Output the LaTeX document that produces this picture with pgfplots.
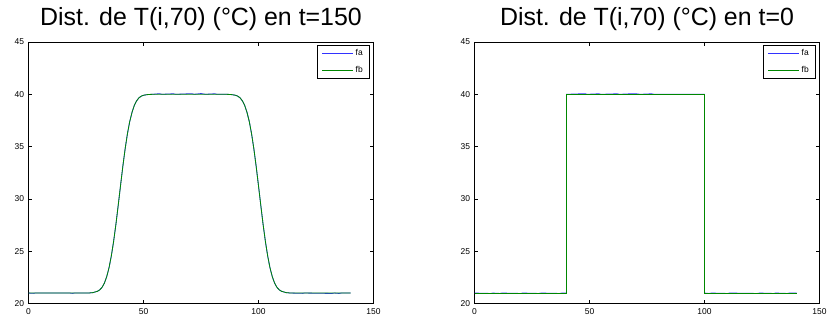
\documentclass[border=0pt]{standalone}
\usepackage{pgfplots}
\pgfplotsset{compat=1.18}
\usepackage{fontspec}
\setmainfont{Liberation Sans}
\definecolor{mblue}{RGB}{50,50,255}
\definecolor{mgreen}{RGB}{0,135,0}

\pgfplotstableread{
x y
0 21.00
26 21.00
28 21.04
30 21.17
31 21.31
32 21.55
33 21.95
34 22.56
35 23.41
36 24.53
37 25.93
38 27.56
39 29.38
40 31.25
41 33.09
42 34.76
43 36.21
44 37.39
45 38.27
46 38.93
47 39.37
48 39.66
49 39.82
50 39.91
52 39.98
54 40.00
86 40.00
88 39.98
90 39.91
91 39.82
92 39.66
93 39.37
94 38.93
95 38.27
96 37.39
97 36.21
98 34.76
99 33.09
100 31.25
101 29.38
102 27.56
103 25.93
104 24.53
105 23.41
106 22.56
107 21.95
108 21.55
109 21.31
110 21.17
112 21.04
114 21.00
140 21.00
}\tfbgreen

\pgfplotstableread{
x y
0 21.00
2 20.97
3 21.00
18 21.00
19 20.97
20 21.00
26 21.00
28 21.04
30 21.17
31 21.31
32 21.55
33 21.95
34 22.56
35 23.41
36 24.53
37 25.93
38 27.56
39 29.38
40 31.25
41 33.09
42 34.76
43 36.21
44 37.39
45 38.27
46 38.93
47 39.37
48 39.66
49 39.82
50 39.91
52 39.98
54 40.00
57 40.06
58 40.00
63 40.05
64 40.00
71 40.06
72 40.00
75 40.07
77 40.00
81 40.05
82 40.00
86 40.00
88 39.98
90 39.91
91 39.82
92 39.66
93 39.37
94 38.93
95 38.27
96 37.39
97 36.21
98 34.76
99 33.09
100 31.25
101 29.38
102 27.56
103 25.93
104 24.53
105 23.41
106 22.56
107 21.95
108 21.55
109 21.31
110 21.17
112 21.04
114 21.00
119 20.97
120 21.00
132 20.96
133 21.00
135 20.96
136 21.00
140 21.00
}\tfbblue

\pgfplotstableread{
x y
0 21.00
40 21.00
40 40.00
100 40.00
100 21.00
140 21.00
}\tzgreen

\pgfplotstableread{
x y
0 21.00
7 20.96
8 21.00
11 20.96
12 21.00
20 20.96
21 21.00
28 20.96
29 21.00
37 20.96
38 21.00
40 21.00
40 40.00
48 40.06
49 40.00
54 40.05
55 40.00
62 40.05
63 40.00
68 40.05
70 40.06
72 40.00
77 40.05
78 40.00
100 40.00
100 21.00
102 20.96
103 21.00
110 20.96
111 21.00
123 20.96
124 21.00
130 20.96
131 21.00
136 20.96
137 21.00
140 21.00
}\tzblue

\pgfplotsset{
  mystyle/.style={
    width=345bp, height=261.5bp, scale only axis,
    xmin=0, xmax=150, ymin=20, ymax=45,
    xtick={0,50,100,150}, ytick={20,25,30,35,40,45},
    tick align=inside, major tick length=3.5bp,
    axis line style={line width=0.9bp},
    every tick/.style={black, line width=0.7bp},
    tick label style={font=\fontsize{8.5}{9}\selectfont},
    /pgf/number format/assume math mode=true,
    xticklabel style={yshift=-2bp},
    yticklabel style={xshift=-1bp},
    title style={at={(0.5,1)}, anchor=base, yshift=11bp, font=\fontsize{25}{28}\selectfont},
    legend style={at={(1,1)}, anchor=north east, xshift=-4bp, yshift=-3bp,
      draw=black, line width=0.6bp, font=\fontsize{8.5}{9}\selectfont,
      inner xsep=4.5bp, inner ysep=2.5bp, row sep=5bp,
      /tikz/every even column/.append style={column sep=3bp}},
    legend cell align=left,
    legend image code/.code={\draw[mark repeat=2,mark phase=2,#1] plot coordinates {(0bp,0bp) (15bp,0bp) (31bp,0bp)};},
  }
}

\begin{document}
\begin{tikzpicture}
\path[use as bounding box] (-28.5bp,-16.5bp) rectangle (799.5bp,303.5bp);
\begin{axis}[mystyle, at={(0bp,0bp)}, anchor=south west,
  title={Dist. de T(i,70) (°C) en t=150}]
\addplot[color=mblue, line width=0.8bp] table[x=x,y=y] {\tfbblue};
\addlegendentry{fa}
\addplot[color=mgreen, line width=0.8bp] table[x=x,y=y] {\tfbgreen};
\addlegendentry{fb}
\end{axis}
\begin{axis}[mystyle, at={(446bp,0bp)}, anchor=south west,
  title={Dist. de T(i,70) (°C) en t=0}]
\addplot[color=mblue, line width=0.8bp] table[x=x,y=y] {\tzblue};
\addlegendentry{fa}
\addplot[color=mgreen, line width=0.8bp] table[x=x,y=y] {\tzgreen};
\addlegendentry{fb}
\end{axis}
\end{tikzpicture}
\end{document}
